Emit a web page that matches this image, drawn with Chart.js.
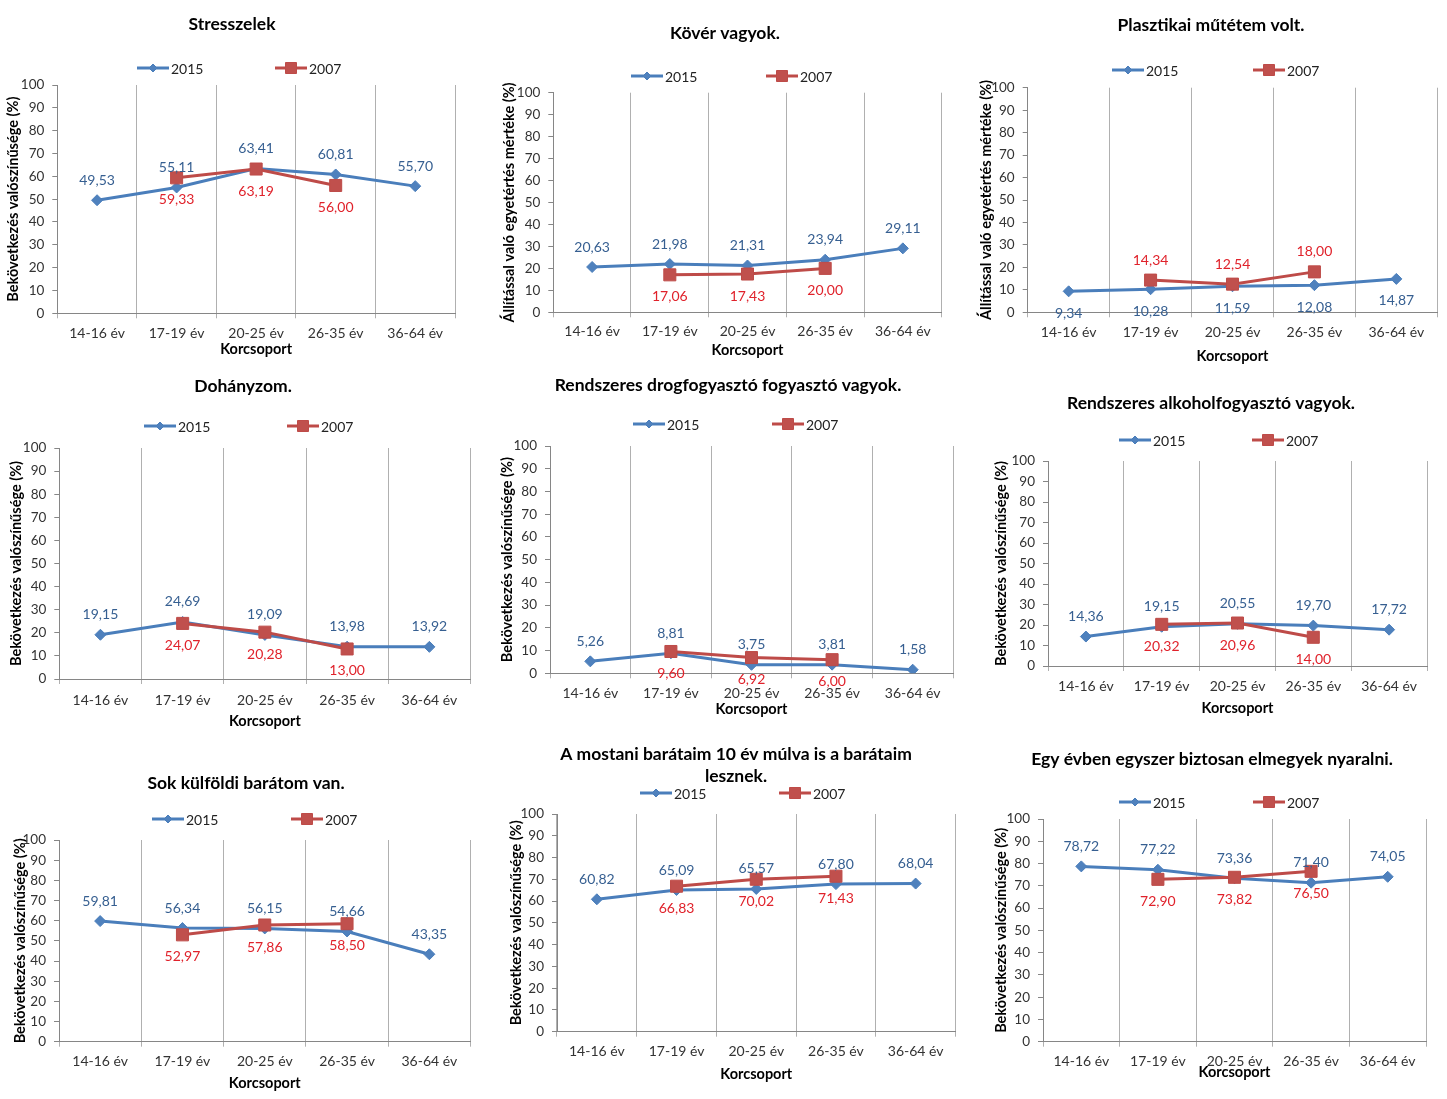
<!DOCTYPE html>
<html lang="hu">
<head>
<meta charset="utf-8">
<title>Korcsoportok 2015 / 2007</title>
<script src="https://cdn.jsdelivr.net/npm/chart.js"></script>
<style>
  html, body { margin: 0; padding: 0; background: #fff; }
  body { width: 1447px; height: 1099px; position: relative; overflow: hidden; }
  canvas { position: absolute; }
</style>
</head>
<body>
<script>
const ageGroups = ['14-16 év', '17-19 év', '20-25 év', '26-35 év', '36-64 év'];
const years = ['2015', '2007'];

const stress2015 = [49.53, 55.11, 63.41, 60.81, 55.70];
const stress2007 = [null, 59.33, 63.19, 56.00, null];
const kover2015 = [20.63, 21.98, 21.31, 23.94, 29.11];
const kover2007 = [null, 17.06, 17.43, 20.00, null];
const plasztika2015 = [9.34, 10.28, 11.59, 12.08, 14.87];
const plasztika2007 = [null, 14.34, 12.54, 18.00, null];
const dohany2015 = [19.15, 24.69, 19.09, 13.98, 13.92];
const dohany2007 = [null, 24.07, 20.28, 13.00, null];
const drog2015 = [5.26, 8.81, 3.75, 3.81, 1.58];
const drog2007 = [null, 9.60, 6.92, 6.00, null];
const alkohol2015 = [14.36, 19.15, 20.55, 19.70, 17.72];
const alkohol2007 = [null, 20.32, 20.96, 14.00, null];
const kulfoldi2015 = [59.81, 56.34, 56.15, 54.66, 43.35];
const kulfoldi2007 = [null, 52.97, 57.86, 58.50, null];
const baratok2015 = [60.82, 65.09, 65.57, 67.80, 68.04];
const baratok2007 = [null, 66.83, 70.02, 71.43, null];
const nyaralas2015 = [78.72, 77.22, 73.36, 71.40, 74.05];
const nyaralas2007 = [null, 72.90, 73.82, 76.50, null];

const titles = [
    'Stresszelek',
    'Kövér vagyok.',
    'Plasztikai műtétem volt.',
    'Dohányzom.',
    'Rendszeres drogfogyasztó fogyasztó vagyok.',
    'Rendszeres alkoholfogyasztó vagyok.',
    'Sok külföldi barátom van.',
    ['A mostani barátaim 10 év múlva is a barátaim', 'lesznek.'],
    'Egy évben egyszer biztosan elmegyek nyaralni.'
];

const probTitle = 'Bekövetkezés valószínűsége (%)';
const agreeTitle = 'Állítással való egyetértés mértéke (%)';
const yTitles = [probTitle, agreeTitle, agreeTitle, probTitle, probTitle, probTitle, probTitle, probTitle, probTitle];

const series2015 = [stress2015, kover2015, plasztika2015, dohany2015, drog2015, alkohol2015, kulfoldi2015, baratok2015, nyaralas2015];
const series2007 = [stress2007, kover2007, plasztika2007, dohany2007, drog2007, alkohol2007, kulfoldi2007, baratok2007, nyaralas2007];

// page positions measured on the reference
const frames = [
    { box: [0, 0, 480, 368], plot: [57.3, 85, 455, 313.3], titleX: 232, titleY: 24, yTitleX: 13, legend: [137, 275, 68], xLabelY: 333, xTitleY: 349 },
    { box: [480, 0, 485, 368], plot: [553.3, 92.7, 941.7, 312.3], titleX: 725, titleY: 33, yTitleX: 509, legend: [631, 766, 76], xLabelY: 331, xTitleY: 350 },
    { box: [960, 0, 487, 368], plot: [1027.7, 87.7, 1437.3, 312.3], titleX: 1211, titleY: 25, yTitleX: 986, legend: [1112, 1253, 70], xLabelY: 332.7, xTitleY: 356.7, swap: true },
    { box: [0, 368, 480, 367], plot: [59.3, 448, 475, 679], titleX: 243, titleY: 386, yTitleX: 16.5, legend: [144, 287, 426], xLabelY: 700, xTitleY: 721 },
    { box: [480, 368, 485, 367], plot: [550, 446, 953, 673.3], titleX: 728, titleY: 385, yTitleX: 507.5, legend: [633, 772, 424], xLabelY: 693, xTitleY: 709 },
    { box: [960, 368, 487, 367], plot: [1048, 461, 1427, 666], titleX: 1211, titleY: 403, yTitleX: 1001, legend: [1119, 1252, 440], xLabelY: 686, xTitleY: 708 },
    { box: [0, 735, 480, 364], plot: [59, 840, 475, 1041.7], titleX: 246, titleY: 783, yTitleX: 20.5, legend: [152, 291, 819], xLabelY: 1061, xTitleY: 1083 },
    { box: [480, 735, 485, 364], plot: [557, 814, 960, 1031.7], titleX: 736, titleY: 754, titleLH: 22, yTitleX: 516, legend: [640, 779, 793], xLabelY: 1051.7, xTitleY: 1074 },
    { box: [960, 735, 487, 364], plot: [1043, 819, 1426, 1041.7], titleX: 1212, titleY: 759, yTitleX: 1001, legend: [1119, 1253, 802], xLabelY: 1061.7, xTitleY: 1072.7 }
];

const FONT = 'Lato, "Noto Sans", sans-serif';
const BLUE = '#4A7EBB';
const RED = '#BE4B48';
const TITLE_SIZE = 17.5;
const AXIS_TITLE_SIZE = 14.5;
const XTICK_SIZE = 14;

function marker(ctx, style, x, y, r, fill, stroke) {
    ctx.beginPath();
    if (style === 'rectRot') {
        ctx.moveTo(x, y - r);
        ctx.lineTo(x + r, y);
        ctx.lineTo(x, y + r);
        ctx.lineTo(x - r, y);
    } else {
        ctx.rect(x - r, y - r, 2 * r, 2 * r);
    }
    ctx.closePath();
    ctx.fillStyle = fill;
    ctx.fill();
    ctx.lineWidth = 1;
    ctx.strokeStyle = stroke;
    ctx.stroke();
}

// Excel style legend: line with marker in the middle, then the label
const lineLegend = {
    id: 'lineLegend',
    afterDraw(chart, args, opts) {
        const ctx = chart.ctx;
        ctx.save();
        ctx.font = '14px ' + FONT;
        ctx.textBaseline = 'middle';
        ctx.textAlign = 'left';
        chart.data.datasets.forEach((ds, i) => {
            const x = opts.x[i];
            const y = opts.y;
            ctx.strokeStyle = ds.borderColor;
            ctx.lineWidth = 3;
            ctx.beginPath();
            ctx.moveTo(x, y);
            ctx.lineTo(x + 32, y);
            ctx.stroke();
            if (ds.pointStyle === 'rectRot') {
                marker(ctx, 'rectRot', x + 16, y, 4, ds.pointBackgroundColor, ds.pointBorderColor);
            } else {
                marker(ctx, 'rect', x + 16, y, 5.5, ds.pointBackgroundColor, ds.pointBorderColor);
            }
            ctx.fillStyle = '#222';
            ctx.fillText(ds.label, x + 34, y + 1);
        });
        ctx.restore();
    }
};

const valueLabels = {
    id: 'valueLabels',
    afterDatasetsDraw(chart, args, opts) {
        const ctx = chart.ctx;
        ctx.save();
        ctx.font = '14px ' + FONT;
        ctx.textAlign = 'center';
        ctx.textBaseline = 'middle';
        chart.data.datasets.forEach((ds, di) => {
            const above = (di === 0) !== !!opts.swap;
            ctx.fillStyle = ds.labelColor;
            chart.getDatasetMeta(di).data.forEach((pt, j) => {
                const v = ds.data[j];
                if (v === null || v === undefined) return;
                ctx.fillText(v.toFixed(2).replace('.', ','), pt.x, pt.y + (above ? -20 : 22));
            });
        });
        ctx.restore();
    }
};

frames.forEach((f, i) => {
    const [bx, by, bw, bh] = f.box;
    const [pl, pt, pr, pb] = f.plot;
    const canvas = document.createElement('canvas');
    canvas.width = bw;
    canvas.height = bh;
    canvas.style.left = bx + 'px';
    canvas.style.top = by + 'px';
    canvas.style.width = bw + 'px';
    canvas.style.height = bh + 'px';
    document.body.appendChild(canvas);

    const scaleLeft = 2 * f.titleX - pr;
    const lines = Array.isArray(titles[i]) ? titles[i].length : 1;
    const tLH = f.titleLH || TITLE_SIZE * 1.2;
    const axisHalf = AXIS_TITLE_SIZE * 1.2 / 2;

    new Chart(canvas, {
        type: 'line',
        data: {
            labels: ageGroups,
            datasets: [
                {
                    label: years[0],
                    data: series2015[i],
                    borderColor: BLUE,
                    borderWidth: 3,
                    pointStyle: 'rectRot',
                    pointRadius: 5.5,
                    pointBackgroundColor: '#4F81BD',
                    pointBorderColor: BLUE,
                    pointBorderWidth: 1,
                    labelColor: '#365F91',
                    tension: 0,
                    order: 1
                },
                {
                    label: years[1],
                    data: series2007[i],
                    borderColor: RED,
                    borderWidth: 3,
                    pointStyle: 'rect',
                    pointRadius: 8.5,
                    pointBackgroundColor: '#C0504D',
                    pointBorderColor: RED,
                    pointBorderWidth: 1,
                    labelColor: '#E0222B',
                    tension: 0,
                    order: 0
                }
            ]
        },
        options: {
            responsive: false,
            animation: false,
            devicePixelRatio: 1,
            events: [],
            layout: { padding: { left: scaleLeft - bx, right: bx + bw - pr, top: 0, bottom: 0 } },
            plugins: {
                legend: { display: false },
                tooltip: { enabled: false },
                title: {
                    display: true,
                    text: titles[i],
                    color: '#000',
                    font: { family: FONT, size: TITLE_SIZE, weight: 'bold', lineHeight: tLH / TITLE_SIZE },
                    padding: {
                        top: f.titleY - by - tLH / 2,
                        bottom: pt - (f.titleY + (lines - 1) * tLH) - tLH / 2
                    }
                },
                lineLegend: { x: f.legend.slice(0, 2).map(v => v - bx), y: f.legend[2] - by },
                valueLabels: { swap: !!f.swap }
            },
            scales: {
                x: {
                    offset: true,
                    grid: { offset: true, color: '#b0b0b0', tickLength: 5 },
                    border: { color: '#868686' },
                    ticks: {
                        padding: f.xLabelY - pb - 5 - XTICK_SIZE * 0.6,
                        color: '#333',
                        font: { family: FONT, size: XTICK_SIZE },
                        maxRotation: 0,
                        autoSkip: false
                    },
                    title: {
                        display: true,
                        text: 'Korcsoport',
                        color: '#000',
                        font: { family: FONT, size: AXIS_TITLE_SIZE, weight: 'bold' },
                        padding: { top: 0, bottom: by + bh - f.xTitleY - axisHalf }
                    },
                    afterFit: s => { s.height = by + bh - pb; }
                },
                y: {
                    min: 0,
                    max: 100,
                    grid: { drawOnChartArea: false, color: '#868686', tickLength: 5 },
                    border: { color: '#868686' },
                    ticks: {
                        stepSize: 10,
                        padding: 8,
                        color: '#333',
                        font: { family: FONT, size: 13.5 }
                    },
                    title: {
                        display: true,
                        text: yTitles[i],
                        color: '#000',
                        font: { family: FONT, size: AXIS_TITLE_SIZE, weight: 'bold' },
                        padding: { top: f.yTitleX - scaleLeft - axisHalf, bottom: 0 }
                    },
                    afterFit: s => { s.width = pl - scaleLeft; }
                }
            }
        },
        plugins: [lineLegend, valueLabels]
    });
});
</script>
</body>
</html>
